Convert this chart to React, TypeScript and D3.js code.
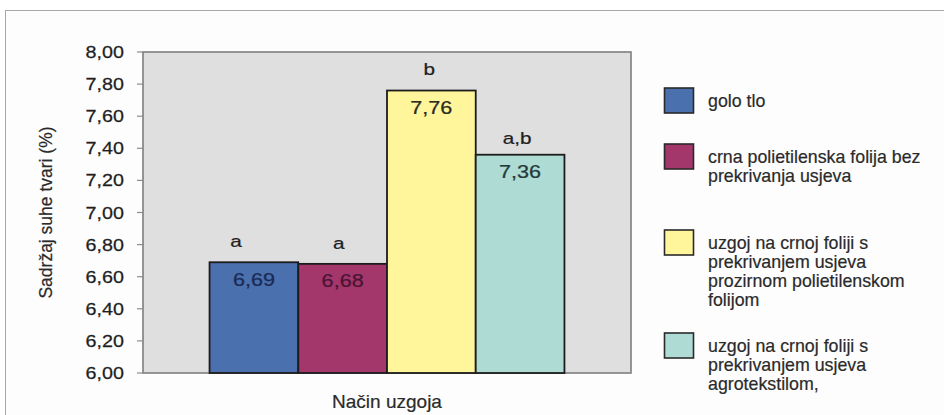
import React from "react";
import * as d3 from "d3";

const seriesNames = [
  "golo tlo",
  "crna polietilenska folija bez prekrivanja usjeva",
  "uzgoj na crnoj foliji s prekrivanjem usjeva prozirnom polietilenskom folijom",
  "uzgoj na crnoj foliji s prekrivanjem usjeva agrotekstilom,",
];
const legendLines = [
  ["golo tlo"],
  ["crna polietilenska folija bez", "prekrivanja usjeva"],
  ["uzgoj na crnoj foliji s", "prekrivanjem usjeva", "prozirnom polietilenskom", "folijom"],
  ["uzgoj na crnoj foliji s", "prekrivanjem usjeva", "agrotekstilom,"],
];
const values = [6.69, 6.68, 7.76, 7.36];
const significance = ["a", "a", "b", "a,b"];
const yDomain = [6, 8];
const colors = ["#4a70ae", "#a3366a", "#fff69c", "#aedbd3"];
const valueTextColors = ["#1b2a55", "#4a1434", "#2b2b20", "#25393a"];
const yTitle = "Sadržaj suhe tvari (%)";
const xTitle = "Način uzgoja";

const W = 944;
const H = 415;
const plot = { left: 143, right: 631, top: 52, bottom: 373 };
const FONT = "'Liberation Sans', Arial, Helvetica, sans-serif";
const NUM_SX = 1.16;
const TXT = "#1f1f1f";

// small annotation nudges for the significance letters (dx, baseline above bar top)
const letterNudge = [
  { dx: -18, dy: 15 },
  { dx: -4, dy: 15 },
  { dx: -2, dy: 16 },
  { dx: -3, dy: 11 },
];
// legend layout: first-line baselines
const legendBaselines = [107, 163, 249, 352];
const legendLineH = 19;

const locale = d3.formatLocale({ decimal: ",", thousands: ".", grouping: [3], currency: ["", "€"] });
const fmt = locale.format(".2f");

function SText(props: {
  x: number;
  y: number;
  sx?: number;
  anchor?: string;
  size: number;
  fill?: string;
  children: React.ReactNode;
}) {
  const { x, y, sx = 1, anchor = "start", size, fill = TXT, children } = props;
  return (
    <text
      transform={`translate(${x},${y}) scale(${sx},1)`}
      textAnchor={anchor}
      fontSize={size}
      fontFamily={FONT}
      fill={fill}
      stroke={fill}
      strokeWidth={0.25}
    >
      {children}
    </text>
  );
}

export default function App() {
  const y = d3.scaleLinear().domain(yDomain).range([plot.bottom, plot.top]);
  const x = d3
    .scaleBand<string>()
    .domain(seriesNames)
    .range([plot.left, plot.right])
    .paddingInner(0)
    .paddingOuter(0.75);
  const ticks = y.ticks(10);

  return (
    <div style={{ position: "absolute", left: 0, top: 0 }}>
      <svg width={W} height={H} style={{ display: "block", background: "#ffffff" }}>
        <rect x={5.5} y={10.5} width={W + 10} height={H + 10} fill="#fdfdfd" stroke="#a8a8a8" strokeWidth={1} />

        {/* plot area */}
        <rect
          x={plot.left}
          y={plot.top}
          width={plot.right - plot.left}
          height={plot.bottom - plot.top}
          fill="#dfdfdf"
          stroke="#858585"
          strokeWidth={1.7}
        />

        {/* y ticks */}
        {ticks.map((t) => (
          <g key={t}>
            <line x1={plot.left - 6} x2={plot.left} y1={y(t)} y2={y(t)} stroke="#8c8c8c" strokeWidth={1.2} />
            <SText x={124} y={y(t) + 6} sx={NUM_SX} anchor="end" size={17}>
              {fmt(t)}
            </SText>
          </g>
        ))}

        {/* bars */}
        {seriesNames.map((s, i) => {
          const bx = x(s)!;
          const bw = x.bandwidth();
          const top = y(values[i]);
          const cx = bx + bw / 2;
          return (
            <g key={s}>
              <rect
                x={bx}
                y={top}
                width={bw}
                height={plot.bottom - top}
                fill={colors[i]}
                stroke="#1c1c1c"
                strokeWidth={1.8}
              />
              <SText x={cx} y={top + 23.5} sx={1.2} anchor="middle" size={18} fill={valueTextColors[i]}>
                {fmt(values[i])}
              </SText>
              <SText
                x={cx + letterNudge[i].dx}
                y={top - letterNudge[i].dy}
                sx={1.22}
                anchor="middle"
                size={17}
              >
                {significance[i]}
              </SText>
            </g>
          );
        })}

        {/* axis titles */}
        <text
          transform={`translate(52,${(plot.top + plot.bottom) / 2}) rotate(-90)`}
          textAnchor="middle"
          fontSize={17.5}
          fontFamily={FONT}
          fill="#2a2a2a"
          stroke="#2a2a2a"
          strokeWidth={0.2}
        >
          {yTitle}
        </text>
        <text
          x={(plot.left + plot.right) / 2}
          y={408}
          textAnchor="middle"
          fontSize={19}
          fontFamily={FONT}
          fill="#2a2a2a"
          stroke="#2a2a2a"
          strokeWidth={0.2}
        >
          {xTitle}
        </text>

        {/* legend */}
        {legendLines.map((lines, i) => {
          const base = legendBaselines[i];
          return (
            <g key={i}>
              <rect
                x={664.5}
                y={base - 19}
                width={29}
                height={25}
                fill={colors[i]}
                stroke="#2a2a2a"
                strokeWidth={1.6}
              />
              {lines.map((ln, j) => (
                <text
                  key={j}
                  x={708}
                  y={base + j * legendLineH}
                  fontSize={17.8}
                  fontFamily={FONT}
                  fill="#2a2a2a"
                  stroke="#2a2a2a"
                  strokeWidth={0.2}
                >
                  {ln}
                </text>
              ))}
            </g>
          );
        })}
      </svg>
    </div>
  );
}
